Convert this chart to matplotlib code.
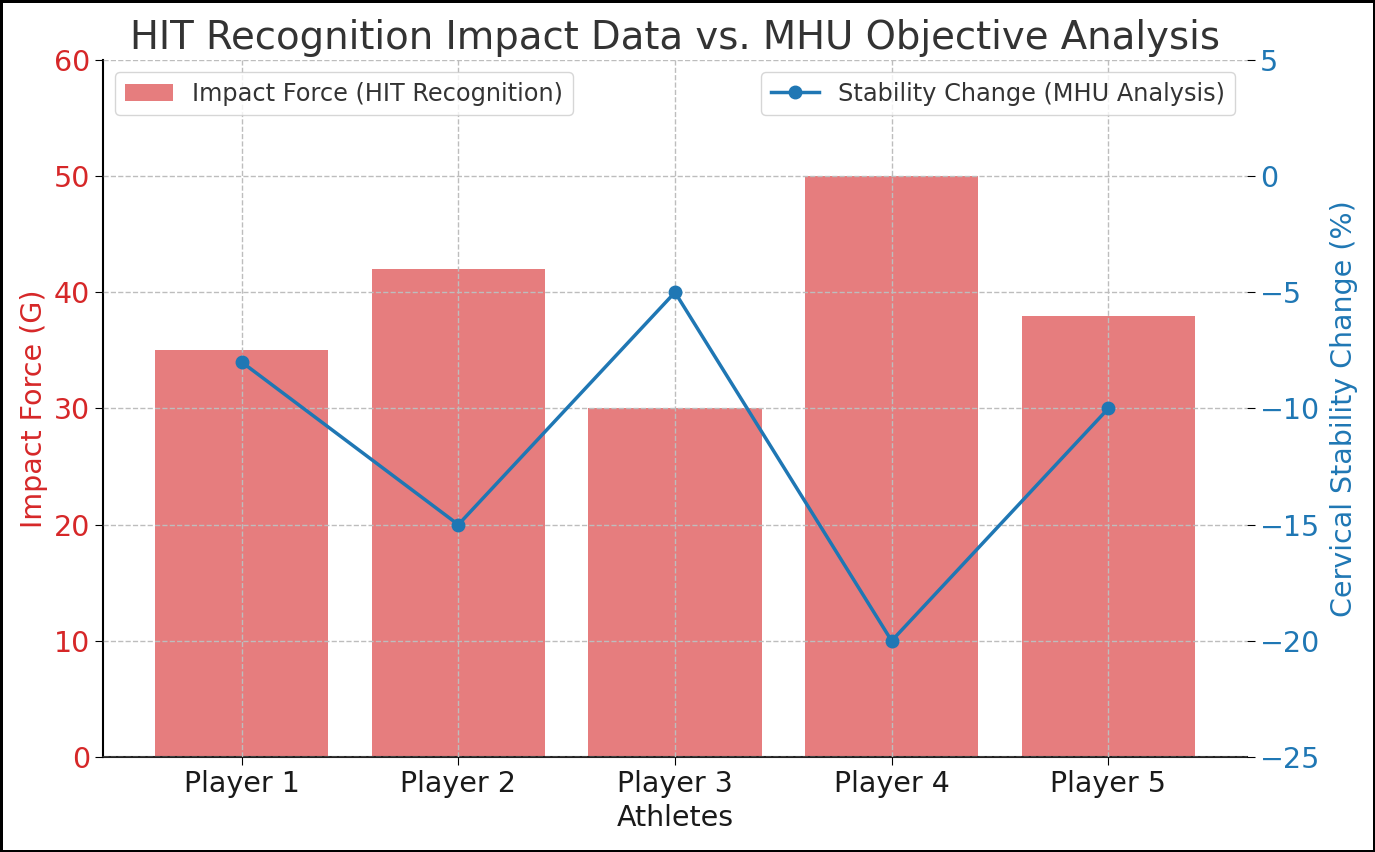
import matplotlib
matplotlib.use("Agg")
import matplotlib.pyplot as plt

athletes = ["Player 1", "Player 2", "Player 3", "Player 4", "Player 5"]
impact_force = [35, 42, 30, 50, 38]
stability_change = [-8, -15, -5, -20, -10]

TEXT = "#333333"
plt.rcParams["font.family"] = ["DejaVu Sans"]
plt.rcParams["text.color"] = TEXT

fig = plt.figure(figsize=(13.75, 8.52), dpi=100)
fig.patch.set_edgecolor("black")
fig.patch.set_linewidth(2.5)
ax1 = fig.add_axes([0.0749, 0.1115, 0.8320, 0.8181])

x = range(len(athletes))
ax1.bar(x, impact_force, width=0.8, color="tab:red", alpha=0.6,
        label="Impact Force (HIT Recognition)")
ax1.set_ylim(0, 60)
ax1.set_xticks(list(x))
ax1.set_xticklabels(athletes, fontsize=20.5, color="#1a1a1a")
ax1.set_xlabel("Athletes", fontsize=20.5, color="#1a1a1a", labelpad=4)
ax1.set_ylabel("Impact Force (G)", fontsize=20.5, color="tab:red", labelpad=4)
ax1.tick_params(axis="y", labelcolor="tab:red", labelsize=20.5)
ax1.tick_params(length=6)
for s in ["top", "right"]:
    ax1.spines[s].set_visible(False)
ax1.spines["left"].set_color("black")
ax1.spines["bottom"].set_color("#222222")
ax1.spines["left"].set_linewidth(1.5)
ax1.spines["bottom"].set_linewidth(1.5)
ax1.set_axisbelow(False)
ax1.grid(True, linestyle="--", color="#bdbdbd", linewidth=1)

ax2 = ax1.twinx()
ax2.plot(list(x), stability_change, color="tab:blue", marker="o", linewidth=2.5,
         markersize=9, label="Stability Change (MHU Analysis)")
ax2.set_ylim(-25, 5)
ax2.set_ylabel("Cervical Stability Change (%)", fontsize=20.5, color="tab:blue", labelpad=7)
ax2.tick_params(axis="y", labelcolor="tab:blue", labelsize=20.5, length=6)
for s in ["top", "right", "left", "bottom"]:
    ax2.spines[s].set_visible(False)
ax1.set_xlim(-0.64, 4.64)

leg1 = ax1.legend(loc="upper left", fontsize=17.3, framealpha=0.8)
leg2 = ax2.legend(loc="upper right", fontsize=17.3, framealpha=0.8)
for t in leg1.get_texts() + leg2.get_texts():
    t.set_color(TEXT)

ax1.set_title("HIT Recognition Impact Data vs. MHU Objective Analysis",
              fontsize=27.8, color=TEXT, pad=8)

fig.savefig("out.png", dpi=100, edgecolor=fig.get_edgecolor())
